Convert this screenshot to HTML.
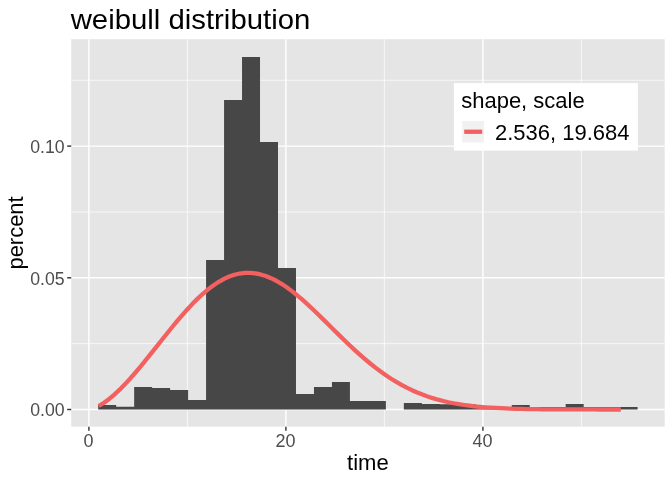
<!DOCTYPE html>
<html><head><meta charset="utf-8"><title>weibull distribution</title>
<style>
html,body{margin:0;padding:0;background:#fff;}
body{width:672px;height:480px;overflow:hidden;}
svg{display:block;will-change:transform;}
text{font-family:"Liberation Sans",sans-serif;}
</style></head><body>
<svg width="672" height="480" viewBox="0 0 672 480">
<rect x="0" y="0" width="672" height="480" fill="#fff"/>
<rect x="71.2" y="39.2" width="593.47" height="387.50" fill="#E5E5E5"/>
<g><line x1="187.40" x2="187.40" y1="39.2" y2="426.7" stroke="#fff" stroke-width="0.71"/><line x1="384.40" x2="384.40" y1="39.2" y2="426.7" stroke="#fff" stroke-width="0.71"/><line x1="581.40" x2="581.40" y1="39.2" y2="426.7" stroke="#fff" stroke-width="0.71"/><line y1="343.65" y2="343.65" x1="71.2" x2="664.67" stroke="#fff" stroke-width="0.71"/><line y1="211.95" y2="211.95" x1="71.2" x2="664.67" stroke="#fff" stroke-width="0.71"/><line y1="80.25" y2="80.25" x1="71.2" x2="664.67" stroke="#fff" stroke-width="0.71"/><line x1="88.90" x2="88.90" y1="39.2" y2="426.7" stroke="#fff" stroke-width="1.42"/><line x1="285.90" x2="285.90" y1="39.2" y2="426.7" stroke="#fff" stroke-width="1.42"/><line x1="482.90" x2="482.90" y1="39.2" y2="426.7" stroke="#fff" stroke-width="1.42"/><line y1="409.50" y2="409.50" x1="71.2" x2="664.67" stroke="#fff" stroke-width="1.42"/><line y1="277.80" y2="277.80" x1="71.2" x2="664.67" stroke="#fff" stroke-width="1.42"/><line y1="146.10" y2="146.10" x1="71.2" x2="664.67" stroke="#fff" stroke-width="1.42"/></g>
<g fill="#474747"><path d="M98.20,409.50 L98.20,405.00 L116.18,405.00 L116.18,406.80 L134.16,406.80 L134.16,387.10 L152.14,387.10 L152.14,387.90 L170.12,387.90 L170.12,390.00 L188.10,390.00 L188.10,400.00 L206.08,400.00 L206.08,260.00 L224.06,260.00 L224.06,100.00 L242.04,100.00 L242.04,57.10 L260.02,57.10 L260.02,142.10 L278.00,142.10 L278.00,267.90 L295.98,267.90 L295.98,393.90 L313.96,393.90 L313.96,387.10 L331.94,387.10 L331.94,382.10 L349.92,382.10 L349.92,401.10 L367.90,401.10 L367.90,401.10 L385.88,401.10 L385.88,409.50 L403.86,409.50 L403.86,402.90 L421.84,402.90 L421.84,404.10 L439.82,404.10 L439.82,404.30 L457.80,404.30 L457.80,404.30 L475.78,404.30 L475.78,407.50 L493.76,407.50 L493.76,407.50 L511.74,407.50 L511.74,404.90 L529.72,404.90 L529.72,406.90 L547.70,406.90 L547.70,406.90 L565.68,406.90 L565.68,404.10 L583.66,404.10 L583.66,407.00 L601.64,407.00 L601.64,407.00 L619.62,407.00 L619.62,407.00 L637.60,407.00 L637.60,409.50 Z"/></g>
<path d="M98.75,406.01 L103.97,402.80 L109.19,398.94 L114.41,394.53 L119.63,389.65 L124.85,384.35 L130.07,378.70 L135.29,372.76 L140.51,366.58 L145.73,360.21 L150.95,353.71 L156.18,347.14 L161.40,340.54 L166.62,333.98 L171.84,327.51 L177.06,321.18 L182.28,315.06 L187.50,309.18 L192.72,303.60 L197.94,298.38 L203.16,293.54 L208.38,289.14 L213.60,285.21 L218.82,281.78 L224.04,278.89 L229.26,276.54 L234.48,274.75 L239.70,273.54 L244.92,272.92 L250.14,272.86 L255.36,273.38 L260.59,274.45 L265.81,276.06 L271.03,278.18 L276.25,280.78 L281.47,283.82 L286.69,287.28 L291.91,291.11 L297.13,295.26 L302.35,299.70 L307.57,304.38 L312.79,309.25 L318.01,314.26 L323.23,319.37 L328.45,324.54 L333.67,329.73 L338.89,334.89 L344.11,339.98 L349.33,344.99 L354.55,349.86 L359.77,354.59 L365.00,359.14 L370.22,363.49 L375.44,367.64 L380.66,371.56 L385.88,375.26 L391.10,378.72 L396.32,381.94 L401.54,384.92 L406.76,387.67 L411.98,390.19 L417.20,392.49 L422.42,394.58 L427.64,396.46 L432.86,398.16 L438.08,399.68 L443.30,401.02 L448.52,402.22 L453.74,403.27 L458.96,404.20 L464.19,405.00 L469.41,405.70 L474.63,406.31 L479.85,406.83 L485.07,407.27 L490.29,407.65 L495.51,407.97 L500.73,408.24 L505.95,408.47 L511.17,408.66 L516.39,408.82 L521.61,408.95 L526.83,409.06 L532.05,409.15 L537.27,409.22 L542.49,409.28 L547.71,409.32 L552.93,409.36 L558.15,409.39 L563.37,409.42 L568.60,409.43 L573.82,409.45 L579.04,409.46 L584.26,409.47 L589.48,409.48 L594.70,409.48 L599.92,409.49 L605.14,409.49 L610.36,409.49 L615.58,409.49 L620.80,409.50" fill="none" stroke="#F2605F" stroke-width="4.27" stroke-linejoin="round" stroke-linecap="butt"/>
<g><line x1="88.90" x2="88.90" y1="426.7" y2="430.70" stroke="#333" stroke-width="1.42"/><line x1="285.90" x2="285.90" y1="426.7" y2="430.70" stroke="#333" stroke-width="1.42"/><line x1="482.90" x2="482.90" y1="426.7" y2="430.70" stroke="#333" stroke-width="1.42"/><line y1="409.50" y2="409.50" x1="67.20" x2="71.2" stroke="#333" stroke-width="1.42"/><line y1="277.80" y2="277.80" x1="67.20" x2="71.2" stroke="#333" stroke-width="1.42"/><line y1="146.10" y2="146.10" x1="67.20" x2="71.2" stroke="#333" stroke-width="1.42"/></g>
<g font-size="17.5px" fill="#4D4D4D"><text x="88.50" y="447.2" text-anchor="middle" textLength="10.0" lengthAdjust="spacingAndGlyphs">0</text><text x="285.50" y="447.2" text-anchor="middle" textLength="20.0" lengthAdjust="spacingAndGlyphs">20</text><text x="482.50" y="447.2" text-anchor="middle" textLength="20.0" lengthAdjust="spacingAndGlyphs">40</text><text x="64.6" y="416.20" text-anchor="end" textLength="34.4" lengthAdjust="spacingAndGlyphs">0.00</text><text x="64.6" y="284.50" text-anchor="end" textLength="34.4" lengthAdjust="spacingAndGlyphs">0.05</text><text x="64.6" y="152.80" text-anchor="end" textLength="34.4" lengthAdjust="spacingAndGlyphs">0.10</text></g>
<text x="367.94" y="469.8" text-anchor="middle" font-size="21.4px" textLength="41.7" lengthAdjust="spacingAndGlyphs" fill="#000">time</text>
<text transform="translate(22.8,232.95) rotate(-90)" text-anchor="middle" font-size="21.4px" textLength="73.2" lengthAdjust="spacingAndGlyphs" fill="#000">percent</text>
<text x="70.7" y="28.75" font-size="28.3px" textLength="239.6" lengthAdjust="spacingAndGlyphs" fill="#000">weibull distribution</text>
<rect x="453.9" y="83.1" width="184" height="67.5" fill="#fff"/>
<rect x="462.2" y="121" width="21.7" height="21.5" fill="#F1F1F1"/>
<line x1="464.2" x2="482.2" y1="131.75" y2="131.75" stroke="#F2605F" stroke-width="4.27"/>
<text x="461.2" y="107.6" font-size="21.4px" textLength="123.5" lengthAdjust="spacingAndGlyphs" fill="#000">shape, scale</text>
<text x="495" y="139.8" font-size="21.4px" textLength="134.5" lengthAdjust="spacingAndGlyphs" fill="#000">2.536, 19.684</text>
</svg>
</body></html>
